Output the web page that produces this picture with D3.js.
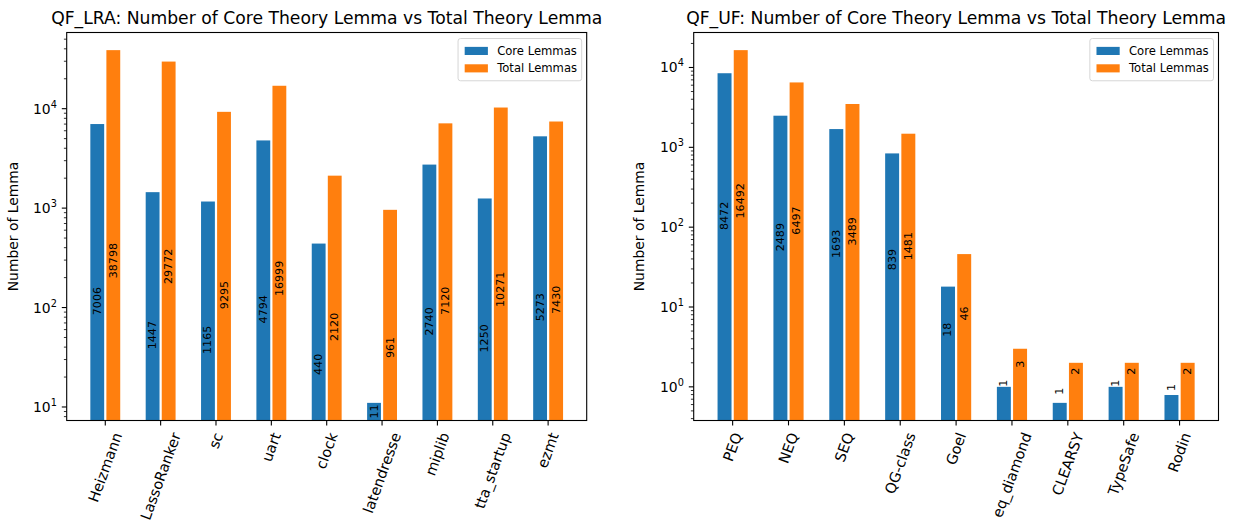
<!DOCTYPE html>
<html>
<head>
<meta charset="utf-8">
<script src="https://cdn.jsdelivr.net/npm/d3@7"></script>
<style>
  body { margin: 0; background: #fff; }
  svg text { font-family: "DejaVu Sans", sans-serif; fill: #000; }
</style>
</head>
<body>
<svg id="chart" width="1244" height="525"></svg>
<script>
// QF_LRA benchmark families
const lraCategories = ["Heizmann", "LassoRanker", "sc", "uart", "clock", "latendresse", "miplib", "tta_startup", "ezmt"];
const lraCore = [7006, 1447, 1165, 4794, 440, 11, 2740, 1250, 5273];
const lraTotal = [38798, 29772, 9295, 16999, 2120, 961, 7120, 10271, 7430];

// QF_UF benchmark families
const ufCategories = ["PEQ", "NEQ", "SEQ", "QG-class", "Goel", "eq_diamond", "CLEARSY", "TypeSafe", "Rodin"];
const ufCore = [8472, 2489, 1693, 839, 18, 1, 0.63, 1, 0.79];
const ufTotal = [16492, 6497, 3489, 1481, 46, 3, 2, 2, 2];

const seriesNames = ["Core Lemmas", "Total Lemmas"];
const panelTitles = [
  "QF_LRA: Number of Core Theory Lemma vs Total Theory Lemma",
  "QF_UF: Number of Core Theory Lemma vs Total Theory Lemma"
];
const yAxisLabel = "Number of Lemma";

const colors = ["#1f77b4", "#ff7f0e"];
const svg = d3.select("#chart");

const FS_TITLE = 17.2, FS_TICK = 13.9, FS_XTICK = 14.5, FS_LEGEND = 11.6, FS_BAR = 11.1;
const MAJOR = 4.9, MINOR = 2.8, PAD = 4.9;

function drawPanel(box, categories, core, total, title) {
  const g = svg.append("g");
  const n = categories.length;
  const barW = 0.25, gap = 0.02;
  const lo = -gap - barW, hi = n - 1 + gap + barW;
  const xm = 0.05 * (hi - lo);
  const x = d3.scaleLinear().domain([lo - xm, hi + xm]).range([box.left, box.right]);

  const all = core.concat(total);
  const lmin = Math.log10(d3.min(all)), lmax = Math.log10(d3.max(all));
  const r = lmax - lmin;
  const y = d3.scaleLog()
    .domain([Math.pow(10, lmin - 0.05 * r), Math.pow(10, lmax + 0.05 * r)])
    .range([box.bottom, box.top]);

  const clipId = "clip" + Math.round(box.left);
  svg.append("clipPath").attr("id", clipId).append("rect")
    .attr("x", box.left).attr("y", box.top)
    .attr("width", box.right - box.left).attr("height", box.bottom - box.top);

  const series = [core, total];
  const offsets = [[-gap - barW, -gap], [gap, gap + barW]];

  const bars = g.append("g").attr("clip-path", `url(#${clipId})`);
  series.forEach((vals, s) => {
    bars.selectAll(null).data(vals).enter().append("rect")
      .attr("x", (d, i) => x(i + offsets[s][0]))
      .attr("width", (d, i) => x(i + offsets[s][1]) - x(i + offsets[s][0]))
      .attr("y", d => y(d))
      .attr("height", d => box.bottom - y(d))
      .attr("fill", colors[s]);
  });

  // value labels, rotated, sitting at the geometric middle of each bar
  const labels = g.append("g").attr("clip-path", `url(#${clipId})`);
  series.forEach((vals, s) => {
    labels.selectAll(null).data(vals).enter().append("text")
      .attr("transform", (d, i) => {
        const cx = (x(i + offsets[s][0]) + x(i + offsets[s][1])) / 2;
        const cy = Math.min(y(Math.sqrt(d)), box.bottom - 2);
        return `translate(${cx},${cy}) rotate(-90)`;
      })
      .attr("dominant-baseline", "central")
      .attr("text-anchor", "start")
      .style("font-size", FS_BAR + "px")
      .text(d => Math.round(d));
  });

  // frame
  g.append("rect")
    .attr("x", box.left).attr("y", box.top)
    .attr("width", box.right - box.left).attr("height", box.bottom - box.top)
    .attr("fill", "none").attr("stroke", "#000").attr("stroke-width", 1.1);

  // y axis: log decades with minor ticks
  const [d0, d1] = y.domain();
  const kLo = Math.floor(Math.log10(d0)), kHi = Math.ceil(Math.log10(d1));
  const yAxis = g.append("g");
  for (let k = kLo; k <= kHi; k++) {
    for (let m = 1; m <= 9; m++) {
      const v = m * Math.pow(10, k);
      if (v < d0 || v > d1) continue;
      const py = y(v);
      const len = m === 1 ? MAJOR : MINOR;
      yAxis.append("line")
        .attr("x1", box.left).attr("x2", box.left - len)
        .attr("y1", py).attr("y2", py)
        .attr("stroke", "#000").attr("stroke-width", m === 1 ? 1.1 : 0.8);
      if (m === 1) {
        const t = yAxis.append("text")
          .attr("x", box.left - MAJOR - PAD)
          .attr("y", py + 5)
          .attr("text-anchor", "end")
          .style("font-size", FS_TICK + "px");
        t.append("tspan").text("10");
        t.append("tspan").attr("dy", -6).style("font-size", (FS_TICK * 0.7) + "px").text(k);
      }
    }
  }

  // x axis ticks and slanted labels
  const xAxis = g.append("g");
  const rot = 70 * Math.PI / 180;
  categories.forEach((c, i) => {
    const px = x(i);
    xAxis.append("line")
      .attr("x1", px).attr("x2", px)
      .attr("y1", box.bottom).attr("y2", box.bottom + MAJOR)
      .attr("stroke", "#000").attr("stroke-width", 1.1);
    const t = xAxis.append("text")
      .attr("text-anchor", "middle")
      .attr("dominant-baseline", "central")
      .style("font-size", FS_XTICK + "px")
      .text(c);
    const L = t.node().getComputedTextLength();
    const h = FS_XTICK * 1.17;
    const H = L * Math.sin(rot) + h * Math.cos(rot);
    const cy = box.bottom + MAJOR + PAD + H / 2;
    t.attr("transform", `translate(${px},${cy}) rotate(-70)`);
  });

  // y axis label
  g.append("text")
    .attr("transform", `translate(${box.ylabelX},${(box.top + box.bottom) / 2}) rotate(-90)`)
    .attr("text-anchor", "middle")
    .style("font-size", FS_TICK + "px")
    .text(yAxisLabel);

  // title
  g.append("text")
    .attr("x", (box.left + box.right) / 2)
    .attr("y", box.top - 9)
    .attr("text-anchor", "middle")
    .style("font-size", FS_TITLE + "px")
    .text(title);

  // legend, upper right
  const lg = g.append("g");
  const bp = 0.4 * FS_LEGEND, handleW = 2 * FS_LEGEND, handleH = 0.7 * FS_LEGEND;
  const htp = 0.8 * FS_LEGEND, rowH = FS_LEGEND, rowGap = 0.5 * FS_LEGEND;
  const items = lg.append("g");
  let maxW = 0;
  seriesNames.forEach((name, s) => {
    const t = items.append("text")
      .attr("x", handleW + htp)
      .attr("y", s * (rowH + rowGap) + rowH / 2)
      .attr("dominant-baseline", "central")
      .style("font-size", FS_LEGEND + "px")
      .text(name);
    maxW = Math.max(maxW, t.node().getComputedTextLength());
    items.append("rect")
      .attr("x", 0).attr("y", s * (rowH + rowGap) + rowH / 2 - handleH / 2)
      .attr("width", handleW).attr("height", handleH)
      .attr("fill", colors[s]);
  });
  const lw = 2 * bp + handleW + htp + maxW + 2;
  const lh = 2 * bp + 2 * rowH + rowGap + 4;
  const lx = box.right - 5 - lw, ly = box.top + 6;
  lg.insert("rect", ":first-child")
    .attr("x", lx).attr("y", ly).attr("width", lw).attr("height", lh)
    .attr("rx", 2.5).attr("fill", "#fff")
    .attr("stroke", "#d6d6d6").attr("stroke-width", 1);
  items.attr("transform", `translate(${lx + bp + 2},${ly + bp + 2})`);
}

drawPanel({ left: 66.7, right: 586.7, top: 32.5, bottom: 420.5, ylabelX: 17.5 },
  lraCategories, lraCore, lraTotal, panelTitles[0]);
drawPanel({ left: 693.7, right: 1218.5, top: 32.5, bottom: 420.5, ylabelX: 644 },
  ufCategories, ufCore, ufTotal, panelTitles[1]);
</script>
</body>
</html>
